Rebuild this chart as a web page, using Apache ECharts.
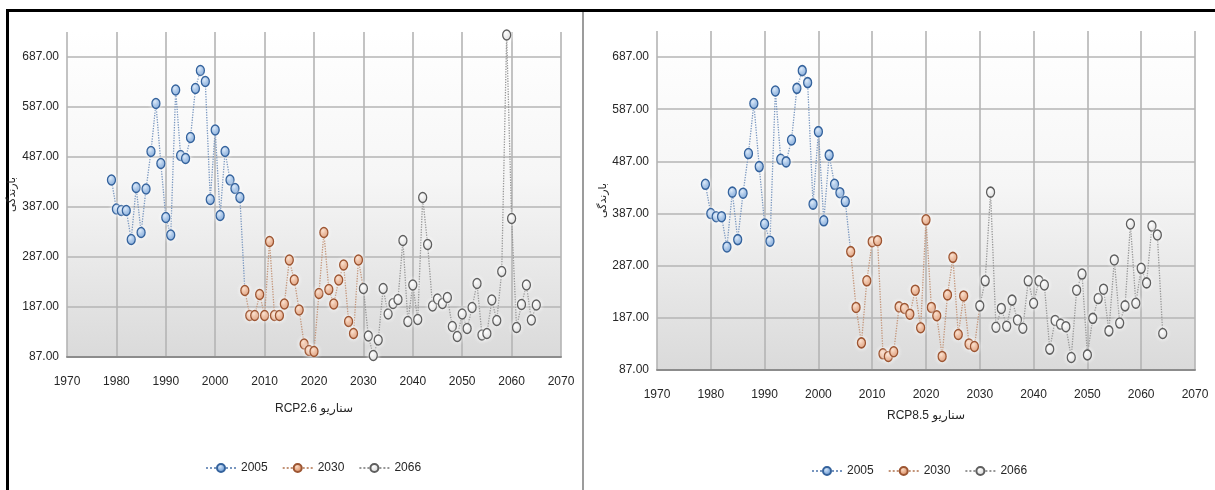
<!DOCTYPE html>
<html>
<head>
<meta charset="utf-8">
<script src="https://cdn.jsdelivr.net/npm/echarts@6/dist/echarts.min.js"></script>
<style>
  html, body { margin: 0; padding: 0; background: #ffffff; }
  #chart { width: 1215px; height: 490px; }
</style>
</head>
<body>
<div id="chart"></div>
<script>
// Annual precipitation, observed period and two future windows, per scenario
const years2005 = [1979,1980,1981,1982,1983,1984,1985,1986,1987,1988,1989,1990,1991,1992,1993,1994,1995,1996,1997,1998,1999,2000,2001,2002,2003,2004,2005];
const years2030 = [2006,2007,2008,2009,2010,2011,2012,2013,2014,2015,2016,2017,2018,2019,2020,2021,2022,2023,2024,2025,2026,2027,2028,2029];
const years2066a = [2030,2031,2032,2033,2034,2035,2036,2037,2038,2039,2040,2041,2042,2043,2044,2045,2046,2047,2048,2049,2050,2051,2052,2053,2054,2055,2056,2057,2058,2059,2060,2061,2062,2063,2064,2065];
const years2066b = [2030,2031,2032,2033,2034,2035,2036,2037,2038,2039,2040,2041,2042,2043,2044,2045,2046,2047,2048,2049,2050,2051,2052,2053,2054,2055,2056,2057,2058,2059,2060,2061,2062,2063,2064];

// RCP2.6
const rcp26_2005 = [441,383,380,380,322,426,336,423,498,594,474,366,331,621,490,484,526,624,660,638,402,541,370,498,441,424,406];
const rcp26_2030 = [220,170,170,212,170,318,170,170,193,281,241,181,113,100,98,214,336,222,193,241,271,158,134,281];
const rcp26_2066 = [224,129,90,121,224,173,194,202,320,158,231,162,406,312,189,203,194,206,148,128,173,144,186,234,131,134,201,160,258,731,364,146,192,231,161,191];

// RCP8.5
const rcp85_2005 = [443,387,381,381,323,428,337,426,502,598,477,367,334,622,491,486,528,627,661,638,405,544,373,499,443,427,410];
const rcp85_2030 = [314,207,139,258,333,335,118,113,122,208,205,194,240,168,375,207,191,113,231,303,155,229,137,132];
const rcp85_2066 = [210,258,428,169,205,171,221,183,167,258,215,258,250,127,182,175,170,111,240,271,116,186,224,242,162,298,177,210,367,215,282,254,363,346,157];

const seriesNames = ['2005', '2030', '2066'];
const xTicks = { min: 1970, max: 2070, step: 10 };
const yTicks = { min: 87, max: 737, step: 100 };
const yTitle = 'بارندگی';
const xTitles = ['RCP2.6 سناریو', 'RCP8.5 سناریو'];

const FONT = '"Liberation Sans Narrow", "Liberation Sans", "DejaVu Sans", sans-serif';
const TEXT = '#262626';

function radial(inner, outer) {
  return new echarts.graphic.RadialGradient(0.4, 0.35, 0.7, [
    { offset: 0, color: inner },
    { offset: 1, color: outer }
  ]);
}

const looks = {
  '2005': { fill: radial('#d2e4f8', '#4f86c9'), border: '#34629c', line: '#7896bf' },
  '2030': { fill: radial('#fbd9c2', '#d17a4b'), border: '#9c5532', line: '#c39478' },
  '2066': { fill: radial('#ffffff', '#cfcfcf'), border: '#5e5e5e', line: '#969696' }
};

// one line series; the extra point (no symbol) joins it to the next period
function makeSeries(name, xs, ys, joinX, joinY, axisIndex) {
  const lk = looks[name];
  const data = xs.map((x, i) => [x, ys[i]]);
  if (joinX !== null) data.push({ value: [joinX, joinY], symbol: 'none' });
  return {
    name: name,
    type: 'line',
    xAxisIndex: axisIndex,
    yAxisIndex: axisIndex,
    data: data,
    symbol: 'circle',
    symbolSize: [8, 10],
    showAllSymbol: true,
    lineStyle: { type: 'dotted', width: 1.3, color: lk.line },
    itemStyle: {
      color: lk.fill,
      borderColor: lk.border,
      borderWidth: 1.4,
      shadowBlur: 4,
      shadowColor: 'rgba(255,255,255,0.95)'
    },
    emphasis: { disabled: true },
    z: 3
  };
}

function xAxis(gridIndex, nameGap) {
  return {
    type: 'value', gridIndex: gridIndex,
    min: xTicks.min, max: xTicks.max, interval: xTicks.step,
    name: xTitles[gridIndex], nameLocation: 'middle', nameGap: nameGap,
    nameTextStyle: { fontFamily: FONT, fontSize: 12, color: TEXT },
    axisLine: { show: true, onZero: false, lineStyle: { color: '#8c8c8c', width: 2 } },
    axisTick: { show: false },
    axisLabel: { fontFamily: FONT, fontSize: 12, color: TEXT, margin: 19, formatter: v => String(v) },
    splitLine: { show: true, showMinLine: true, showMaxLine: true, lineStyle: { color: '#b4b4b4', width: 1.6 } }
  };
}

function yAxis(gridIndex, nameGap) {
  return {
    type: 'value', gridIndex: gridIndex,
    min: yTicks.min, max: yTicks.max, interval: yTicks.step,
    name: yTitle, nameLocation: 'middle', nameGap: nameGap, nameRotate: 90,
    nameTextStyle: { fontFamily: FONT, fontSize: 11, color: TEXT },
    axisLine: { show: false },
    axisTick: { show: false },
    axisLabel: {
      fontFamily: FONT, fontSize: 12, color: TEXT, margin: 8,
      showMaxLabel: false,
      formatter: v => v.toFixed(2)
    },
    splitLine: { show: true, showMinLine: false, showMaxLine: false, lineStyle: { color: '#b4b4b4', width: 1.6 } }
  };
}

const plotBg = new echarts.graphic.LinearGradient(0, 0, 0, 1, [
  { offset: 0, color: '#ffffff' },
  { offset: 0.45, color: '#f6f6f6' },
  { offset: 1, color: '#dadada' }
]);

function legend(left, top) {
  return {
    data: seriesNames, left: left, top: top, orient: 'horizontal',
    itemWidth: 30, itemHeight: 10, itemGap: 14,
    textStyle: { fontFamily: FONT, fontSize: 12, color: TEXT },
    selectedMode: false
  };
}

const option = {
  animation: false,
  backgroundColor: '#ffffff',
  grid: [
    { left: 67, top: 32, width: 494, height: 325, show: true, backgroundColor: plotBg, borderWidth: 0 },
    { left: 657, top: 31, width: 538, height: 339, show: true, backgroundColor: plotBg, borderWidth: 0 }
  ],
  xAxis: [xAxis(0, 46), xAxis(1, 40)],
  yAxis: [yAxis(0, 50), yAxis(1, 42)],
  legend: [legend(200, 457), legend(806, 460)],
  series: [
    makeSeries('2005', years2005, rcp26_2005, years2030[0], rcp26_2030[0], 0),
    makeSeries('2030', years2030, rcp26_2030, years2066a[0], rcp26_2066[0], 0),
    makeSeries('2066', years2066a, rcp26_2066, null, null, 0),
    makeSeries('2005', years2005, rcp85_2005, years2030[0], rcp85_2030[0], 1),
    makeSeries('2030', years2030, rcp85_2030, years2066b[0], rcp85_2066[0], 1),
    makeSeries('2066', years2066b, rcp85_2066, null, null, 1)
  ],
  graphic: [
    { type: 'rect', shape: { x: 6, y: 9, width: 1209, height: 3 }, style: { fill: '#000' }, silent: true },
    { type: 'rect', shape: { x: 6, y: 9, width: 3, height: 481 }, style: { fill: '#000' }, silent: true },
    { type: 'rect', shape: { x: 582, y: 12, width: 2, height: 478 }, style: { fill: '#9c9c9c' }, silent: true }
  ]
};

const chart = echarts.init(document.getElementById('chart'), null, { renderer: 'canvas' });
chart.setOption(option);
</script>
</body>
</html>
